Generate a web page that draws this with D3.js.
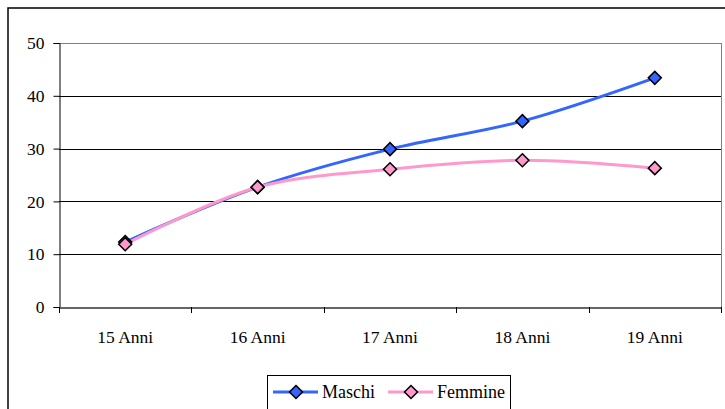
<!DOCTYPE html>
<html><head><meta charset="utf-8">
<script src="https://cdn.jsdelivr.net/npm/d3@7"></script>
<style>body{margin:0;background:#fff;}svg{display:block;} text{font-family:'Liberation Serif','Times New Roman',serif !important;}</style>
</head><body>
<script>
const categories = ["15 Anni","16 Anni","17 Anni","18 Anni","19 Anni"];
const maschi = [12.3, 22.7, 29.9, 35.2, 43.4];
const femmine = [11.9, 22.7, 26.1, 27.8, 26.3];
const yTicks = [0,10,20,30,40,50];
const seriesNames = ["Maschi","Femmine"];

const W=725,H=409;
const svg=d3.select("body").append("svg").attr("width",W).attr("height",H);
const font="'Liberation Serif','Times New Roman',serif";
const FS=17.5;

// outer frame
svg.append("rect").attr("x",8).attr("y",8).attr("width",W+10).attr("height",H+10)
  .attr("fill","none").attr("stroke","#000").attr("stroke-width",1.5);

const L=59,R=721,T=43,B=307;
const x=d3.scaleBand().domain(categories).range([L,R]);
const y=d3.scaleLinear().domain([0,50]).range([B,T]);

// gridlines
svg.append("g").selectAll("line").data(yTicks.filter(d=>d>0)).join("line")
  .attr("x1",L).attr("x2",R).attr("y1",d=>Math.round(y(d))+0.5).attr("y2",d=>Math.round(y(d))+0.5)
  .attr("stroke",d=>d===50?"#808080":"#000").attr("stroke-width",1);
// plot right border
svg.append("line").attr("x1",R+0.5).attr("x2",R+0.5).attr("y1",T).attr("y2",B).attr("stroke","#808080");

// y axis
const ya=svg.append("g").attr("transform",`translate(${L+0.5},0)`)
  .call(d3.axisLeft(y).tickValues(yTicks).tickSize(6).tickPadding(9));
ya.selectAll("text").attr("font-family",font).attr("font-size",FS).attr("fill","#000");
ya.selectAll("line,path").attr("stroke","#000");

// x axis
const xa=svg.append("g").attr("transform",`translate(0,${Math.round(B)+0.5})`)
  .call(d3.axisBottom(x).tickSize(0).tickPadding(23));
xa.selectAll("text").attr("font-family",font).attr("font-size",FS).attr("fill","#000");
xa.select("path").attr("stroke","#333").attr("stroke-width",1.5);
// band boundary ticks
svg.append("g").selectAll("line").data(d3.range(categories.length+1)).join("line")
  .attr("x1",i=>Math.round(L+i*x.step())+0.5).attr("x2",i=>Math.round(L+i*x.step())+0.5)
  .attr("y1",B).attr("y2",B+6).attr("stroke","#000");

const colors={Maschi:"#3366FF",Femmine:"#FF99CC"};
const lineGen=d3.line().x((d,i)=>x(categories[i])+x.bandwidth()/2).y(d=>y(d)).curve(d3.curveCatmullRom.alpha(0.5));
const diamondPath=(cx,cy,s)=>`M${cx},${cy-s}L${cx+s},${cy}L${cx},${cy+s}L${cx-s},${cy}Z`;

[["Maschi",maschi],["Femmine",femmine]].forEach(([name,vals])=>{
  svg.append("path").datum(vals).attr("d",lineGen).attr("fill","none")
    .attr("stroke",colors[name]).attr("stroke-width",3);
});
[["Maschi",maschi],["Femmine",femmine]].forEach(([name,vals])=>{
  svg.append("g").selectAll("path").data(vals).join("path")
    .attr("d",(d,i)=>diamondPath(x(categories[i])+x.bandwidth()/2,y(d),6.5))
    .attr("fill",colors[name]).attr("stroke","#000").attr("stroke-width",1.5);
});

// legend
svg.append("rect").attr("x",267.5).attr("y",375.5).attr("width",243).attr("height",50)
  .attr("fill","#fff").attr("stroke","#000").attr("stroke-width",1);
const legItems=[{n:"Maschi",x0:273},{n:"Femmine",x0:388}];
legItems.forEach(it=>{
  svg.append("line").attr("x1",it.x0).attr("x2",it.x0+45).attr("y1",392).attr("y2",392)
    .attr("stroke",colors[it.n]).attr("stroke-width",3);
  svg.append("path").attr("d",diamondPath(it.x0+23,392,6.5)).attr("fill",colors[it.n])
    .attr("stroke","#000").attr("stroke-width",1.5);
  svg.append("text").attr("x",it.x0+49).attr("y",398).text(it.n)
    .attr("font-family",font).attr("font-size",18).attr("fill","#000");
});
</script>
</body></html>
